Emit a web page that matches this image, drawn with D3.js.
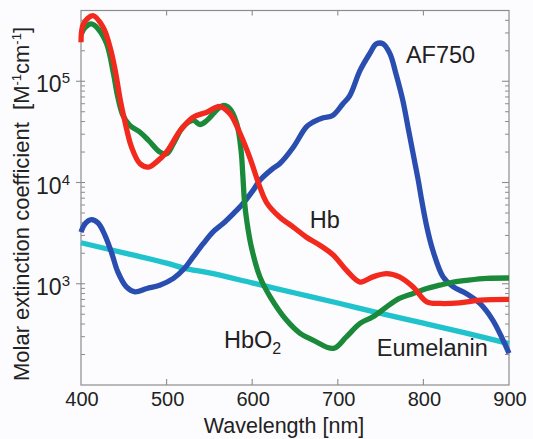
<!DOCTYPE html>
<html>
<head>
<meta charset="utf-8">
<script src="https://cdnjs.cloudflare.com/ajax/libs/d3/7.8.5/d3.min.js"></script>
<style>
  html, body { margin: 0; padding: 0; background: #fcfcfe; }
  svg { display: block; }
  text { font-family: "Liberation Sans", Arial, sans-serif; fill: #222; }
</style>
</head>
<body>
<svg width="533" height="439"></svg>
<script>
// values: [wavelength nm, molar extinction M^-1 cm^-1]
var hb = [[400,2.43e5],[403,3.7e5],[414,4.45e5],[426,3.4e5],[434,2.16e5],[440,1.28e5],[446,6.45e4],
  [451,4.1e4],[459,2.24e4],[469,1.53e4],[479,1.42e4],[488,1.59e4],[500,2.0e4],[516,3.27e4],[531,4.42e4],
  [547,4.95e4],[562,5.63e4],[574,4.78e4],[586,3.03e4],[597,1.78e4],[609,9.0e3],[617,6.3e3],[632,4.56e3],
  [648,3.63e3],[663,2.9e3],[679,2.4e3],[695,1.91e3],[710,1.36e3],[726,1.04e3],[741,1.17e3],[757,1.26e3],
  [772,1.17e3],[788,930],[804,662],[819,639],[842,648],[866,689],[900,700]];

var hbO2 = [[400,2.93e5],[405,3.41e5],[412,3.68e5],[420,3.29e5],[430,2.34e5],[438,1.18e5],[443,6.97e4],
  [449,4.6e4],[457,3.66e4],[469,3.14e4],[479,2.6e4],[492,2.0e4],[500,1.92e4],[508,2.42e4],[519,3.52e4],
  [531,4.1e4],[539,3.74e4],[547,4.1e4],[558,5.14e4],[566,5.76e4],[574,5.34e4],[582,3.8e4],[587,2.07e4],
  [589,1.2e4],[591,6.5e3],[594,4.0e3],[599,2.31e3],[609,1.17e3],[621,743],[640,438],[656,324],[671,278],
  [695,230],[710,299],[726,406],[741,471],[757,591],[772,716],[788,802],[804,898],[819,968],[835,1040],
  [850,1080],[874,1130],[900,1140]];

var af750 = [[400,3.24e3],[405,3.93e3],[412,4.3e3],[420,3.98e3],[428,3.01e3],[436,1.99e3],[443,1.31e3],
  [453,931],[463,832],[477,898],[492,968],[508,1130],[521,1420],[531,1840],[543,2500],[554,3240],[566,3930],
  [578,4930],[589,6180],[601,8360],[609,1.05e4],[624,1.37e4],[632,1.53e4],[648,2.23e4],[663,3.52e4],
  [671,3.95e4],[683,4.36e4],[694,4.59e4],[706,5.99e4],[714,7.22e4],[726,1.28e5],[737,1.86e5],[745,2.34e5],
  [753,2.34e5],[761,1.86e5],[768,1.18e5],[776,6.45e4],[782,3.52e4],[788,1.92e4],[794,1.05e4],[798,6.67e3],
  [804,3.64e3],[811,2.14e3],[823,1170],[835,931],[850,802],[866,639],[881,438],[893,278],[900,206]];

var eumelanin = [[400,2540],[450,2020],[500,1600],[521,1420],[550,1280],[600,1020],[650,810],[700,645],
  [750,510],[800,408],[850,325],[900,256]];

var xTickLabels = [400, 500, 600, 700, 800, 900];
var yDecades = [100, 1000, 10000, 100000];

var seriesLabels = [
  {text: "AF750", sub: "", nm: 779.6, value: 1.53e5},
  {text: "Hb", sub: "", nm: 667.3, value: 3530},
  {text: "HbO", sub: "2", nm: 567, value: 232},
  {text: "Eumelanin", sub: "", nm: 745.6, value: 193}
];

var margin = {left: 81, right: 24, top: 10.5, bottom: 54};
var width = 533, height = 439;

var svg = d3.select("svg");

var x = d3.scaleLinear().domain([400, 900]).range([margin.left, width - margin.right]);
var y = d3.scaleLog().domain([100, 5e5]).range([height - margin.bottom, margin.top]);

var frameColor = "#8c8c8c";

// frame
svg.append("rect")
    .attr("x", x(400)).attr("y", y(5e5))
    .attr("width", x(900) - x(400)).attr("height", y(100) - y(5e5))
    .attr("fill", "none").attr("stroke", frameColor).attr("stroke-width", 1.2);

// x ticks, inward on bottom and top
var inner = xTickLabels.slice(1, -1);
svg.selectAll(".xtick-b").data(inner).enter().append("line")
    .attr("x1", function (d) { return x(d); }).attr("x2", function (d) { return x(d); })
    .attr("y1", y(100)).attr("y2", y(100) - 6)
    .attr("stroke", frameColor).attr("stroke-width", 1.1);
svg.selectAll(".xtick-t").data(inner).enter().append("line")
    .attr("x1", function (d) { return x(d); }).attr("x2", function (d) { return x(d); })
    .attr("y1", y(5e5)).attr("y2", y(5e5) + 5)
    .attr("stroke", frameColor).attr("stroke-width", 1.1);

svg.selectAll(".xlabel").data(xTickLabels).enter().append("text")
    .attr("x", function (d) { return x(d) + 1; })
    .attr("y", y(100) + 20.5)
    .attr("text-anchor", "middle")
    .style("font-size", "20px")
    .text(function (d) { return d; });

// y ticks
var minor = [];
yDecades.forEach(function (dec) {
    for (var m = 2; m <= 9; m++) {
        if (dec * m <= 5e5) minor.push(dec * m);
    }
});

svg.selectAll(".ymaj-l").data(yDecades.slice(1)).enter().append("line")
    .attr("x1", x(400) - 5).attr("x2", x(400) + 4)
    .attr("y1", function (d) { return y(d); }).attr("y2", function (d) { return y(d); })
    .attr("stroke", frameColor).attr("stroke-width", 1.1);
svg.selectAll(".ymin-l").data(minor).enter().append("line")
    .attr("x1", x(400)).attr("x2", x(400) + 4)
    .attr("y1", function (d) { return y(d); }).attr("y2", function (d) { return y(d); })
    .attr("stroke", frameColor).attr("stroke-width", 1);
svg.selectAll(".ymaj-r").data(yDecades.slice(1)).enter().append("line")
    .attr("x1", x(900)).attr("x2", x(900) - 7)
    .attr("y1", function (d) { return y(d); }).attr("y2", function (d) { return y(d); })
    .attr("stroke", frameColor).attr("stroke-width", 1.1);
svg.selectAll(".ymin-r").data(minor).enter().append("line")
    .attr("x1", x(900)).attr("x2", x(900) - 4)
    .attr("y1", function (d) { return y(d); }).attr("y2", function (d) { return y(d); })
    .attr("stroke", frameColor).attr("stroke-width", 1);

var ylab = svg.selectAll(".ylabel").data(yDecades.slice(1)).enter().append("text")
    .attr("x", x(400) - 11)
    .attr("y", function (d) { return y(d) + 11; })
    .attr("text-anchor", "end")
    .style("font-size", "23px");
ylab.append("tspan").text("10");
ylab.append("tspan").attr("dy", -9).style("font-size", "15px")
    .text(function (d) { return Math.round(Math.log10(d)); });

// curves
var line = d3.line()
    .x(function (d) { return x(d[0]); })
    .y(function (d) { return y(d[1]); })
    .curve(d3.curveCatmullRom.alpha(0.5));

var series = [
  {data: eumelanin, color: "#20c2cb"},
  {data: af750, color: "#2a4db0"},
  {data: hbO2, color: "#1a8a3a"},
  {data: hb, color: "#f2291d"}
];

svg.selectAll(".curve").data(series).enter().append("path")
    .attr("d", function (d) { return line(d.data); })
    .attr("fill", "none")
    .attr("stroke", function (d) { return d.color; })
    .attr("stroke-width", 5.3)
    .attr("stroke-linejoin", "round")
    .attr("stroke-linecap", "butt");

// series labels
var sl = svg.selectAll(".slabel").data(seriesLabels).enter().append("text")
    .attr("x", function (d) { return x(d.nm); })
    .attr("y", function (d) { return y(d.value); })
    .style("font-size", "23.5px");
sl.append("tspan").text(function (d) { return d.text; });
sl.append("tspan").attr("dy", 6).style("font-size", "16px").text(function (d) { return d.sub; });

// axis titles
svg.append("text")
    .attr("x", 284)
    .attr("y", 433)
    .attr("text-anchor", "middle")
    .style("font-size", "21.5px")
    .text("Wavelength [nm]");

var yt = svg.append("text")
    .attr("transform", "translate(29," + 204 + ") rotate(-90)")
    .attr("text-anchor", "middle")
    .style("font-size", "22px")
    .style("white-space", "pre");
yt.append("tspan").text("Molar extinction coefficient  [M");
yt.append("tspan").attr("dy", -8).style("font-size", "13px").text("-1");
yt.append("tspan").attr("dy", 8).text("cm");
yt.append("tspan").attr("dy", -8).style("font-size", "13px").text("-1");
yt.append("tspan").attr("dy", 8).text("]");
</script>
</body>
</html>
